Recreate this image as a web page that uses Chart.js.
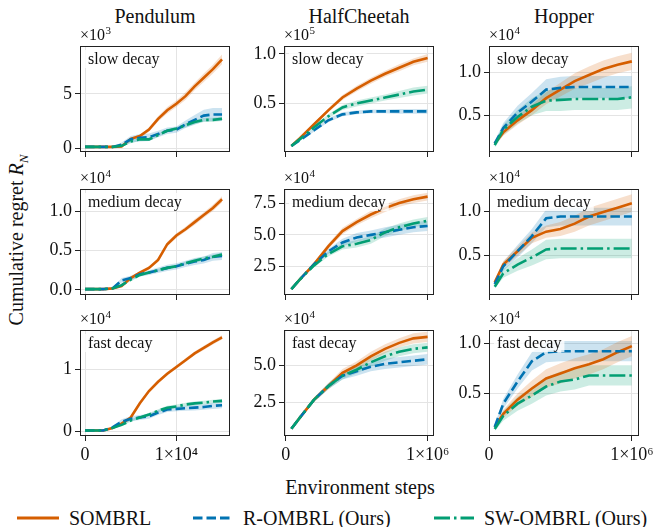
<!DOCTYPE html>
<html>
<head>
<meta charset="utf-8">
<script src="https://cdn.jsdelivr.net/npm/chart.js@4.4.1/dist/chart.umd.min.js"></script>
<style>
  body { margin: 0; background: #fff; }
  #fig { position: relative; width: 665px; height: 527px; overflow: hidden;
         font-family: "Liberation Serif", "DejaVu Serif", serif; color: #111; }
  #fig canvas { position: absolute; }
  .txt { position: absolute; white-space: nowrap; font-size: 20px; line-height: 1; }
  .title { transform: translate(-50%, -50%); }
  .leg { position: absolute; top: 508px; display: flex; align-items: center; font-size: 20px; line-height: 1; }
  .leg svg { margin-right: 10px; }
</style>
</head>
<body>
<div id="fig">
  <div class="txt title" style="left:155px; top:16px;">Pendulum</div>
  <div class="txt title" style="left:359px; top:16px;">HalfCheetah</div>
  <div class="txt title" style="left:564px; top:16px;">Hopper</div>
  <div class="txt" style="left:18px; top:240px; transform: translate(-50%, -50%) rotate(-90deg);">Cumulative regret <i>R</i><sub style="font-size:13px"><i>N</i></sub></div>
  <div class="txt title" style="left:360px; top:487px;">Environment steps</div>
  <div class="leg" style="left:17px;"><svg width="42" height="10"><line x1="0" y1="5" x2="42" y2="5" stroke="#d55e00" stroke-width="2.8"/></svg>SOMBRL</div>
  <div class="leg" style="left:193px;"><svg width="40" height="10"><line x1="0" y1="5" x2="40" y2="5" stroke="#0173b2" stroke-width="2.8" stroke-dasharray="9.5 4"/></svg>R-OMBRL (Ours)</div>
  <div class="leg" style="left:434px;"><svg width="40" height="10"><line x1="0" y1="5" x2="40" y2="5" stroke="#029e73" stroke-width="2.8" stroke-dasharray="16 4 2.5 4"/></svg>SW-OMBRL (Ours)</div>
</div>
<script>
// environment steps
const pendX = [0, 1000, 2000, 3000, 4000, 5000, 6000, 7000, 8000, 9000, 10000, 11000, 12000, 13000, 14000, 15000];
const cheetahX = [40000, 100000, 200000, 300000, 400000, 500000, 600000, 700000, 800000, 900000, 1000000];
const hopperX = [40000, 100000, 200000, 300000, 400000, 500000, 600000, 700000, 800000, 900000, 1000000];

// Pendulum, slow decay (x1e3)
const pendSlowSombrl   = [0.1, 0.1, 0.1, 0.1, 0.15, 0.85, 1.1, 1.7, 2.7, 3.5, 4.1, 4.8, 5.7, 6.5, 7.3, 8.2];
const pendSlowSombrlSd = [0.02, 0.02, 0.02, 0.02, 0.05, 0.1, 0.15, 0.2, 0.25, 0.3, 0.3, 0.35, 0.35, 0.4, 0.4, 0.45];
const pendSlowR        = [0.1, 0.1, 0.1, 0.1, 0.3, 0.8, 0.95, 1.0, 1.3, 1.6, 1.7, 2.2, 2.6, 3.0, 3.1, 3.1];
const pendSlowRSd      = [0.02, 0.02, 0.02, 0.02, 0.2, 0.3, 0.35, 0.35, 0.3, 0.3, 0.3, 0.35, 0.45, 0.55, 0.6, 0.6];
const pendSlowSw       = [0.1, 0.1, 0.1, 0.1, 0.2, 0.6, 0.8, 0.8, 1.2, 1.6, 1.8, 2.1, 2.4, 2.6, 2.6, 2.7];
const pendSlowSwSd     = [0.02, 0.02, 0.02, 0.02, 0.1, 0.15, 0.15, 0.15, 0.15, 0.15, 0.15, 0.2, 0.2, 0.2, 0.2, 0.2];

// Pendulum, medium decay (x1e4)
const pendMedSombrl   = [0.01, 0.01, 0.01, 0.02, 0.05, 0.15, 0.22, 0.28, 0.38, 0.58, 0.69, 0.77, 0.86, 0.95, 1.04, 1.15];
const pendMedSombrlSd = [0.005, 0.005, 0.005, 0.005, 0.01, 0.015, 0.02, 0.02, 0.025, 0.03, 0.03, 0.03, 0.035, 0.035, 0.04, 0.04];
const pendMedR        = [0.01, 0.01, 0.01, 0.02, 0.12, 0.15, 0.2, 0.22, 0.25, 0.28, 0.3, 0.33, 0.36, 0.38, 0.42, 0.43];
const pendMedRSd      = [0.005, 0.005, 0.005, 0.005, 0.03, 0.03, 0.03, 0.03, 0.035, 0.04, 0.04, 0.04, 0.045, 0.045, 0.05, 0.05];
const pendMedSw       = [0.01, 0.01, 0.01, 0.02, 0.06, 0.13, 0.19, 0.22, 0.25, 0.28, 0.3, 0.34, 0.37, 0.4, 0.42, 0.45];
const pendMedSwSd     = [0.005, 0.005, 0.005, 0.005, 0.015, 0.02, 0.02, 0.02, 0.02, 0.02, 0.02, 0.02, 0.025, 0.025, 0.025, 0.025];

// Pendulum, fast decay (x1e4)
const pendFastSombrl   = [0.01, 0.01, 0.01, 0.05, 0.12, 0.22, 0.45, 0.65, 0.8, 0.93, 1.04, 1.15, 1.26, 1.35, 1.44, 1.52];
const pendFastSombrlSd = [0.005, 0.005, 0.005, 0.01, 0.015, 0.02, 0.02, 0.025, 0.025, 0.03, 0.03, 0.03, 0.03, 0.035, 0.035, 0.035];
const pendFastR        = [0.01, 0.01, 0.01, 0.06, 0.15, 0.2, 0.22, 0.24, 0.3, 0.35, 0.36, 0.37, 0.38, 0.39, 0.41, 0.42];
const pendFastRSd      = [0.005, 0.005, 0.005, 0.02, 0.04, 0.04, 0.04, 0.04, 0.04, 0.04, 0.04, 0.04, 0.045, 0.045, 0.05, 0.05];
const pendFastSw       = [0.01, 0.01, 0.01, 0.05, 0.1, 0.17, 0.22, 0.27, 0.33, 0.38, 0.4, 0.43, 0.45, 0.46, 0.48, 0.49];
const pendFastSwSd     = [0.005, 0.005, 0.005, 0.01, 0.02, 0.02, 0.02, 0.025, 0.025, 0.03, 0.03, 0.03, 0.03, 0.03, 0.03, 0.03];

// HalfCheetah, slow decay (x1e5)
const chSlowSombrl   = [0.07, 0.15, 0.29, 0.43, 0.56, 0.65, 0.73, 0.8, 0.86, 0.92, 0.96];
const chSlowSombrlSd = [0.005, 0.01, 0.015, 0.02, 0.025, 0.03, 0.03, 0.03, 0.035, 0.035, 0.04];
const chSlowR        = [0.07, 0.13, 0.23, 0.33, 0.39, 0.41, 0.42, 0.42, 0.42, 0.42, 0.42];
const chSlowRSd      = [0.005, 0.01, 0.015, 0.02, 0.02, 0.02, 0.02, 0.02, 0.025, 0.025, 0.025];
const chSlowSw       = [0.07, 0.14, 0.26, 0.37, 0.46, 0.5, 0.53, 0.56, 0.59, 0.62, 0.64];
const chSlowSwSd     = [0.005, 0.01, 0.015, 0.02, 0.025, 0.03, 0.03, 0.03, 0.035, 0.04, 0.04];

// HalfCheetah, medium decay (x1e4)
const chMedSombrl   = [0.75, 1.5, 2.7, 4.1, 5.3, 6.0, 6.6, 7.1, 7.5, 7.8, 8.0];
const chMedSombrlSd = [0.05, 0.1, 0.15, 0.2, 0.25, 0.25, 0.3, 0.3, 0.3, 0.3, 0.3];
const chMedR        = [0.75, 1.5, 2.7, 3.7, 4.4, 4.8, 5.0, 5.2, 5.4, 5.6, 5.7];
const chMedRSd      = [0.05, 0.1, 0.15, 0.2, 0.3, 0.35, 0.35, 0.4, 0.4, 0.4, 0.4];
const chMedSw       = [0.75, 1.5, 2.6, 3.5, 4.1, 4.3, 4.6, 5.2, 5.6, 5.9, 6.1];
const chMedSwSd     = [0.05, 0.1, 0.15, 0.2, 0.25, 0.3, 0.3, 0.3, 0.3, 0.3, 0.3];

// HalfCheetah, fast decay (x1e4)
const chFastSombrl   = [0.75, 1.5, 2.7, 3.6, 4.5, 5.0, 5.6, 6.1, 6.5, 6.8, 6.9];
const chFastSombrlSd = [0.05, 0.1, 0.15, 0.2, 0.25, 0.25, 0.3, 0.3, 0.3, 0.35, 0.35];
const chFastR        = [0.75, 1.5, 2.7, 3.6, 4.3, 4.6, 4.9, 5.1, 5.2, 5.3, 5.4];
const chFastRSd      = [0.05, 0.1, 0.15, 0.2, 0.25, 0.3, 0.3, 0.35, 0.35, 0.35, 0.35];
const chFastSw       = [0.75, 1.5, 2.7, 3.6, 4.3, 4.7, 5.2, 5.6, 5.9, 6.1, 6.2];
const chFastSwSd     = [0.05, 0.1, 0.15, 0.2, 0.25, 0.25, 0.3, 0.3, 0.3, 0.3, 0.3];

// Hopper, slow decay (x1e4)
const hopSlowSombrl   = [0.17, 0.3, 0.44, 0.56, 0.7, 0.8, 0.9, 0.97, 1.04, 1.09, 1.13];
const hopSlowSombrlSd = [0.02, 0.04, 0.05, 0.06, 0.07, 0.08, 0.09, 0.1, 0.1, 0.1, 0.1];
const hopSlowR        = [0.17, 0.35, 0.53, 0.66, 0.8, 0.82, 0.83, 0.83, 0.83, 0.83, 0.83];
const hopSlowRSd      = [0.03, 0.06, 0.08, 0.1, 0.12, 0.13, 0.13, 0.13, 0.13, 0.13, 0.13];
const hopSlowSw       = [0.15, 0.33, 0.48, 0.6, 0.67, 0.68, 0.69, 0.69, 0.69, 0.69, 0.71];
const hopSlowSwSd     = [0.03, 0.06, 0.08, 0.1, 0.12, 0.13, 0.13, 0.13, 0.13, 0.13, 0.13];

// Hopper, medium decay (x1e4)
const hopMedSombrl   = [0.2, 0.4, 0.55, 0.7, 0.77, 0.8, 0.86, 0.94, 0.99, 1.04, 1.09];
const hopMedSombrlSd = [0.02, 0.04, 0.05, 0.06, 0.07, 0.08, 0.09, 0.1, 0.1, 0.1, 0.1];
const hopMedR        = [0.18, 0.38, 0.55, 0.72, 0.92, 0.94, 0.94, 0.94, 0.94, 0.94, 0.94];
const hopMedRSd      = [0.02, 0.05, 0.07, 0.08, 0.1, 0.1, 0.1, 0.1, 0.1, 0.1, 0.1];
const hopMedSw       = [0.15, 0.3, 0.4, 0.48, 0.57, 0.58, 0.58, 0.58, 0.58, 0.58, 0.58];
const hopMedSwSd     = [0.02, 0.05, 0.07, 0.09, 0.11, 0.11, 0.11, 0.11, 0.11, 0.11, 0.11];

// Hopper, fast decay (x1e4)
const hopFastSombrl   = [0.17, 0.3, 0.44, 0.55, 0.65, 0.7, 0.75, 0.79, 0.84, 0.91, 0.97];
const hopFastSombrlSd = [0.02, 0.04, 0.06, 0.08, 0.09, 0.1, 0.1, 0.1, 0.1, 0.1, 0.1];
const hopFastR        = [0.17, 0.4, 0.62, 0.82, 0.91, 0.92, 0.92, 0.92, 0.92, 0.92, 0.92];
const hopFastRSd      = [0.02, 0.05, 0.07, 0.09, 0.1, 0.1, 0.1, 0.1, 0.1, 0.1, 0.1];
const hopFastSw       = [0.15, 0.28, 0.4, 0.48, 0.57, 0.62, 0.64, 0.68, 0.68, 0.68, 0.68];
const hopFastSwSd     = [0.02, 0.05, 0.07, 0.08, 0.09, 0.1, 0.1, 0.1, 0.1, 0.1, 0.1];

// tick labels
const pendXTicks = [0, 10000];
const pendXLabels = ['0', '1×10⁴'];
const stepXTicks = [0, 1000000];
const stepXLabels = ['0', '1×10⁶'];
const pendSlowTicks = [0, 5];
const pendMedTicks = [0, 0.5, 1.0];
const pendFastTicks = [0, 1];
const chSlowTicks = [0.5, 1.0];
const chMedTicks = [2.5, 5.0, 7.5];
const chFastTicks = [2.5, 5.0];
const hopTicks = [0.5, 1.0];

const decayNames = ['slow decay', 'medium decay', 'fast decay'];

// layout
const colLeft = [80, 284, 489];
const rowTop = [46, 189, 330];
const plotW = 150, plotH = 106;
const padL = 50, padT = 30, padR = 30, padB = 32;

const colors = ['#d55e00', '#0173b2', '#029e73'];
const bands = ['rgba(213,94,0,0.2)', 'rgba(1,115,178,0.2)', 'rgba(2,158,115,0.2)'];
const dashes = [[], [9.5, 4], [16, 4, 2.5, 4]];

const panels = [
  { col: 0, row: 0, xs: pendX, xr: [-550, 15870], xt: pendXTicks, xl: pendXLabels, yr: [-0.37, 9.44], yt: pendSlowTicks, dec: 0, exp: '3',
    series: [[pendSlowSombrl, pendSlowSombrlSd], [pendSlowR, pendSlowRSd], [pendSlowSw, pendSlowSwSd]] },
  { col: 0, row: 1, xs: pendX, xr: [-550, 15870], xt: pendXTicks, xl: pendXLabels, yr: [-0.064, 1.28], yt: pendMedTicks, dec: 1, exp: '4',
    series: [[pendMedSombrl, pendMedSombrlSd], [pendMedR, pendMedRSd], [pendMedSw, pendMedSwSd]] },
  { col: 0, row: 2, xs: pendX, xr: [-550, 15870], xt: pendXTicks, xl: pendXLabels, yr: [-0.08, 1.64], yt: pendFastTicks, dec: 0, exp: '4',
    series: [[pendFastSombrl, pendFastSombrlSd], [pendFastR, pendFastRSd], [pendFastSw, pendFastSwSd]] },
  { col: 1, row: 0, xs: cheetahX, xr: [-12000, 1045000], xt: stepXTicks, xl: stepXLabels, yr: [0.01, 1.08], yt: chSlowTicks, dec: 1, exp: '5',
    series: [[chSlowSombrl, chSlowSombrlSd], [chSlowR, chSlowRSd], [chSlowSw, chSlowSwSd]] },
  { col: 1, row: 1, xs: cheetahX, xr: [-12000, 1045000], xt: stepXTicks, xl: stepXLabels, yr: [0.28, 8.6], yt: chMedTicks, dec: 1, exp: '4',
    series: [[chMedSombrl, chMedSombrlSd], [chMedR, chMedRSd], [chMedSw, chMedSwSd]] },
  { col: 1, row: 2, xs: cheetahX, xr: [-12000, 1045000], xt: stepXTicks, xl: stepXLabels, yr: [0.27, 7.36], yt: chFastTicks, dec: 1, exp: '4',
    series: [[chFastSombrl, chFastSombrlSd], [chFastR, chFastRSd], [chFastSw, chFastSwSd]] },
  { col: 2, row: 0, xs: hopperX, xr: [0, 1050000], xt: stepXTicks, xl: stepXLabels, yr: [0.07, 1.31], yt: hopTicks, dec: 1, exp: '4',
    series: [[hopSlowSombrl, hopSlowSombrlSd], [hopSlowR, hopSlowRSd], [hopSlowSw, hopSlowSwSd]] },
  { col: 2, row: 1, xs: hopperX, xr: [0, 1050000], xt: stepXTicks, xl: stepXLabels, yr: [0.057, 1.25], yt: hopTicks, dec: 1, exp: '4',
    series: [[hopMedSombrl, hopMedSombrlSd], [hopMedR, hopMedRSd], [hopMedSw, hopMedSwSd]] },
  { col: 2, row: 2, xs: hopperX, xr: [0, 1050000], xt: stepXTicks, xl: stepXLabels, yr: [0.08, 1.13], yt: hopTicks, dec: 1, exp: '4',
    series: [[hopFastSombrl, hopFastSombrlSd], [hopFastR, hopFastRSd], [hopFastSw, hopFastSwSd]] }
];

const FONT = '"Liberation Serif", "DejaVu Serif", serif';
Chart.defaults.font.family = FONT;
Chart.defaults.color = '#111';

// frame, offset text (x10^n) and the decay note
const panelDecor = {
  id: 'panelDecor',
  afterDraw(chart, args, opts) {
    const { ctx, chartArea: a } = chart;
    ctx.save();
    // note with white box
    ctx.font = '16px ' + FONT;
    ctx.textBaseline = 'top';
    const w = ctx.measureText(opts.note).width;
    ctx.fillStyle = 'rgba(255,255,255,0.8)';
    ctx.fillRect(a.left + 5, a.top + 4, w + 6, 18);
    ctx.fillStyle = '#111';
    ctx.fillText(opts.note, a.left + 8, a.top + 6);
    // frame
    ctx.strokeStyle = '#222';
    ctx.lineWidth = 1;
    ctx.strokeRect(Math.round(a.left) + 0.5, Math.round(a.top) + 0.5, Math.round(a.width) - 1, Math.round(a.height) - 1);
    // offset text
    ctx.textBaseline = 'alphabetic';
    ctx.font = '16px ' + FONT;
    const base = '×10';
    ctx.fillText(base, a.left, a.top - 6);
    const bw = ctx.measureText(base).width;
    ctx.font = '11px ' + FONT;
    ctx.fillText(opts.exp, a.left + bw + 0.5, a.top - 12);
    ctx.restore();
  }
};

const fig = document.getElementById('fig');

panels.forEach(p => {
  const cv = document.createElement('canvas');
  const W = padL + plotW + padR, H = padT + plotH + padB;
  cv.width = W; cv.height = H;
  cv.style.left = (colLeft[p.col] - padL) + 'px';
  cv.style.top = (rowTop[p.row] - padT) + 'px';
  cv.style.width = W + 'px'; cv.style.height = H + 'px';
  fig.appendChild(cv);

  const datasets = [];
  p.series.forEach(([mean, sd], k) => {
    datasets.push({
      data: p.xs.map((x, i) => ({ x, y: mean[i] - sd[i] })),
      borderWidth: 0, pointRadius: 0, fill: false, order: 10
    });
    datasets.push({
      data: p.xs.map((x, i) => ({ x, y: mean[i] + sd[i] })),
      borderWidth: 0, pointRadius: 0, fill: '-1', backgroundColor: bands[k], order: 10
    });
  });
  p.series.forEach(([mean], k) => {
    datasets.push({
      data: p.xs.map((x, i) => ({ x, y: mean[i] })),
      borderColor: colors[k], borderWidth: 2.6, borderDash: dashes[k],
      pointRadius: 0, fill: false, tension: 0, order: 3 - k
    });
  });

  const bottom = p.row === 2;
  new Chart(cv, {
    type: 'line',
    data: { datasets },
    options: {
      responsive: false,
      animation: false,
      layout: { padding: { left: 0, top: padT, right: padR, bottom: 0 } },
      plugins: {
        legend: { display: false },
        tooltip: { enabled: false },
        panelDecor: { note: decayNames[p.row], exp: p.exp }
      },
      scales: {
        x: {
          type: 'linear', min: p.xr[0], max: p.xr[1],
          afterBuildTicks: s => { s.ticks = p.xt.map(v => ({ value: v })); },
          afterFit: s => { s.height = padB; },
          ticks: {
            autoSkip: false, maxRotation: 0, padding: 3,
            font: { size: 18 }, color: '#111',
            callback: (v, i) => bottom ? p.xl[i] : ''
          },
          grid: { color: '#e4e4e4', tickColor: '#222', tickLength: 5 },
          border: { display: false }
        },
        y: {
          type: 'linear', min: p.yr[0], max: p.yr[1],
          afterBuildTicks: s => { s.ticks = p.yt.map(v => ({ value: v })); },
          afterFit: s => { s.width = padL; },
          ticks: {
            autoSkip: false, padding: 3,
            font: { size: 18 }, color: '#111',
            callback: v => v.toFixed(p.dec)
          },
          grid: { color: '#e4e4e4', tickColor: '#222', tickLength: 5 },
          border: { display: false }
        }
      }
    },
    plugins: [panelDecor]
  });
});
</script>
</body>
</html>
